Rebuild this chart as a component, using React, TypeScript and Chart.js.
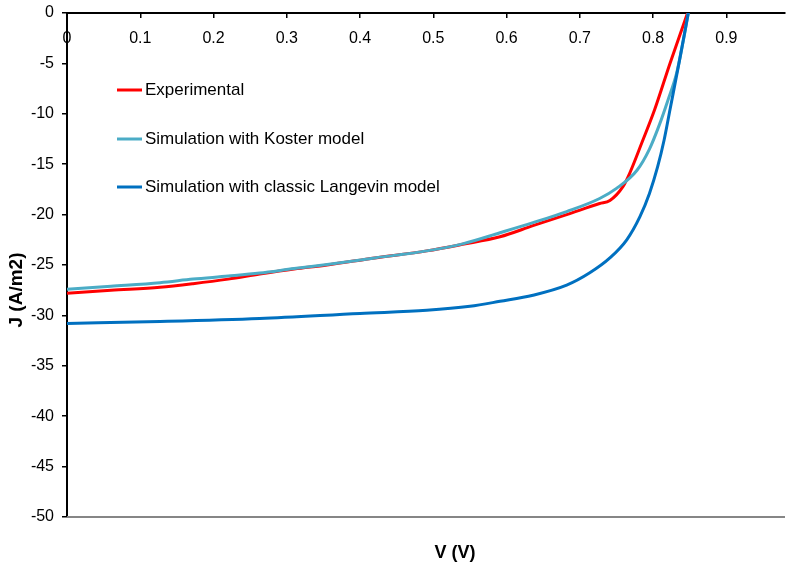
import React, { useEffect, useRef } from "react";
import { Chart, registerables } from "chart.js";

Chart.register(...registerables);

// ---- data ----
const seriesNames = [
  "Experimental",
  "Simulation with Koster model",
  "Simulation with classic Langevin model",
];
const seriesColors = ["#FF0000", "#4BACC6", "#0070C0"];

const vExperimental = [0, 0.06, 0.127, 0.172, 0.22, 0.263, 0.31, 0.355, 0.42, 0.491, 0.54, 0.591, 0.636, 0.682, 0.727, 0.741, 0.759, 0.768, 0.785, 0.802, 0.823, 0.847];
const jExperimental = [-27.8, -27.5, -27.2, -26.85, -26.4, -25.9, -25.4, -25.0, -24.3, -23.6, -22.95, -22.2, -21.1, -20.0, -18.9, -18.6, -17.2, -15.9, -12.8, -9.6, -5.0, 0];

const vKoster = [0, 0.06, 0.127, 0.172, 0.22, 0.263, 0.31, 0.355, 0.42, 0.491, 0.54, 0.591, 0.636, 0.682, 0.727, 0.75, 0.778, 0.795, 0.809, 0.82, 0.832, 0.84, 0.848];
const jKoster = [-27.4, -27.1, -26.75, -26.4, -26.1, -25.8, -25.35, -24.95, -24.3, -23.6, -22.9, -21.8, -20.8, -19.7, -18.4, -17.4, -15.6, -13.5, -11.0, -8.7, -6.0, -3.2, 0];

const vLangevin = [0, 0.127, 0.263, 0.4, 0.491, 0.55, 0.591, 0.636, 0.682, 0.713, 0.741, 0.764, 0.782, 0.795, 0.806, 0.815, 0.823, 0.836, 0.848];
const jLangevin = [-30.8, -30.6, -30.3, -29.8, -29.5, -29.1, -28.6, -28.0, -27.0, -25.8, -24.3, -22.5, -20.2, -17.9, -15.3, -12.6, -9.6, -4.7, 0];

const xMin = 0;
const xMax = 0.98;
const xStep = 0.1;
const yMin = -50;
const yMax = 0;
const yStep = 5;

const xAxisTitle = "V (V)";
const yAxisTitle = "J (A/m2)";

const FONT = '"Liberation Sans", Arial, sans-serif';

export default function App() {
  const ref = useRef<HTMLCanvasElement>(null);

  useEffect(() => {
    if (!ref.current) return;
    const toPts = (xs: number[], ys: number[]) => xs.map((x, i) => ({ x, y: ys[i] }));

    const overlay = {
      id: "overlay",
      afterDraw(chart: any) {
        const ctx = chart.ctx as CanvasRenderingContext2D;
        const a = chart.chartArea;
        ctx.save();
        // bottom plot border
        ctx.strokeStyle = "#868686";
        ctx.lineWidth = 2;
        ctx.beginPath();
        ctx.moveTo(a.left, a.bottom);
        ctx.lineTo(a.right, a.bottom);
        ctx.stroke();

        // legend inside plot
        const rows = [77, 126, 174];
        ctx.font = `17px ${FONT}`;
        ctx.textBaseline = "middle";
        ctx.textAlign = "left";
        seriesNames.forEach((name, i) => {
          const y = a.top + rows[i];
          ctx.strokeStyle = seriesColors[i];
          ctx.lineWidth = 3;
          ctx.beginPath();
          ctx.moveTo(a.left + 50, y);
          ctx.lineTo(a.left + 75, y);
          ctx.stroke();
          ctx.fillStyle = "#000";
          ctx.fillText(name, a.left + 78, y);
        });

        // axis titles
        ctx.font = `bold 18px ${FONT}`;
        ctx.textAlign = "center";
        ctx.fillText(xAxisTitle, a.left + 388, a.bottom + 36);
        ctx.font = `bold 19px ${FONT}`;
        ctx.translate(17, a.top + 277);
        ctx.rotate(-Math.PI / 2);
        ctx.fillText(yAxisTitle, 0, 0);
        ctx.restore();
      },
    };

    const chart = new Chart(ref.current, {
      type: "line",
      data: {
        datasets: [
          { label: seriesNames[0], data: toPts(vExperimental, jExperimental), borderColor: seriesColors[0], order: 3 },
          { label: seriesNames[1], data: toPts(vKoster, jKoster), borderColor: seriesColors[1], order: 2 },
          { label: seriesNames[2], data: toPts(vLangevin, jLangevin), borderColor: seriesColors[2], order: 1 },
        ].map((d) => ({
          ...d,
          borderWidth: 3,
          pointRadius: 0,
          fill: false,
          tension: 0.4,
          cubicInterpolationMode: "monotone" as const,
        })),
      },
      options: {
        responsive: false,
        animation: false,
        layout: { autoPadding: false, padding: { top: 13, right: 4, bottom: 48, left: 0 } },
        plugins: { legend: { display: false }, tooltip: { enabled: false } },
        scales: {
          x: {
            type: "linear",
            position: { y: 0 } as any,
            min: xMin,
            max: xMax,
            ticks: {
              stepSize: xStep,
              includeBounds: false,
              padding: 12,
              color: "#000",
              font: { family: FONT, size: 16 },
              maxRotation: 0,
              callback: (v: any) => {
                const n = Math.round(Number(v) * 10) / 10;
                return n === 0 ? "0" : n.toFixed(1);
              },
            },
            grid: { drawOnChartArea: false, drawTicks: true, tickLength: 4, color: "#000", lineWidth: 1.5 },
            border: { display: true, color: "#000", width: 2 },
            afterFit: (scale: any) => {
              scale.paddingLeft = 0;
              scale.paddingRight = 0;
            },
          },
          y: {
            type: "linear",
            position: "left",
            min: yMin,
            max: yMax,
            ticks: {
              stepSize: yStep,
              padding: 8,
              color: "#000",
              font: { family: FONT, size: 16 },
            },
            grid: { drawOnChartArea: false, drawTicks: true, tickLength: 5, color: "#000", lineWidth: 1.5 },
            border: { display: true, color: "#000", width: 2 },
            afterFit: (scale: any) => {
              scale.width = 67;
              scale.paddingTop = 0;
              scale.paddingBottom = 0;
            },
          },
        },
      },
      plugins: [overlay],
    });
    return () => chart.destroy();
  }, []);

  return (
    <div style={{ position: "absolute", left: 0, top: 0, width: 789, height: 565, background: "#fff" }}>
      <canvas ref={ref} width={789} height={565} style={{ display: "block" }} />
    </div>
  );
}
